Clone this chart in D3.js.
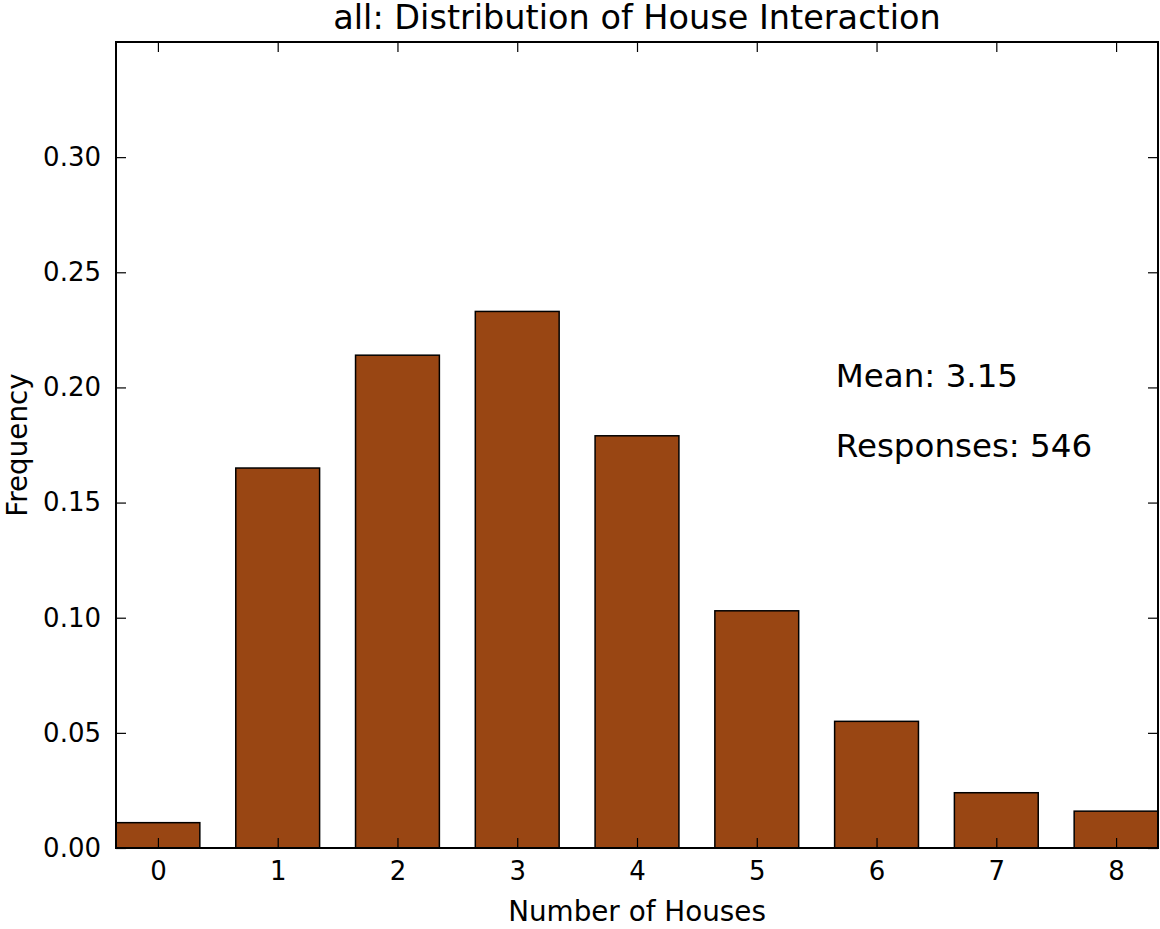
<!DOCTYPE html>
<html>
<head>
<meta charset="utf-8">
<script src="https://cdn.jsdelivr.net/npm/d3@7"></script>
<style>
  body { margin: 0; background: #fff; }
  svg { display: block; }
</style>
</head>
<body>
<div id="chart"></div>
<script>
// Data
const houses = [0, 1, 2, 3, 4, 5, 6, 7, 8];
const frequency = [0.011, 0.165, 0.214, 0.233, 0.179, 0.103, 0.055, 0.024, 0.016];
const yTicks = [0.00, 0.05, 0.10, 0.15, 0.20, 0.25, 0.30];
const notes = ['Mean: 3.15', 'Responses: 546'];
const noteY = [0.20, 0.17];
const noteX = 5.66;

const width = 1160;
const height = 929;
const margin = { top: 42, right: 2, bottom: 81, left: 116 };
const barWidth = 0.7;
const barColor = '#994613';
const font = 'DejaVu Sans';

const svg = d3.select('#chart').append('svg')
    .attr('width', width)
    .attr('height', height);

const x = d3.scaleLinear()
    .domain([-0.35, 8.35])
    .range([margin.left, width - margin.right]);

const y = d3.scaleLinear()
    .domain([0, 0.35])
    .range([height - margin.bottom, margin.top]);

const plotW = width - margin.left - margin.right;
const plotH = height - margin.top - margin.bottom;

// bars
svg.append('g')
  .selectAll('rect')
  .data(houses)
  .join('rect')
    .attr('x', (d) => x(d - barWidth / 2))
    .attr('y', (d, i) => y(frequency[i]))
    .attr('width', x(barWidth) - x(0))
    .attr('height', (d, i) => y(0) - y(frequency[i]))
    .attr('fill', barColor)
    .attr('stroke', '#000')
    .attr('stroke-width', 1.5);

// axes, ticks pointing inwards like classic matplotlib
const axisStyle = (g) => {
  g.select('.domain').remove();
  g.selectAll('.tick line').attr('stroke', '#000').attr('stroke-width', 1.2);
  g.selectAll('.tick text')
    .attr('font-family', font)
    .attr('font-size', 26)
    .attr('fill', '#000');
};

svg.append('g')
    .attr('transform', `translate(0,${y(0)})`)
    .call(d3.axisBottom(x).tickValues(houses).tickFormat(d3.format('d'))
      .tickSizeInner(-10).tickSizeOuter(0).tickPadding(14))
    .call(axisStyle);

svg.append('g')
    .attr('transform', `translate(0,${margin.top})`)
    .call(d3.axisTop(x).tickValues(houses).tickFormat('')
      .tickSizeInner(-10).tickSizeOuter(0))
    .call(axisStyle);

svg.append('g')
    .attr('transform', `translate(${margin.left},0)`)
    .call(d3.axisLeft(y).tickValues(yTicks).tickFormat(d3.format('.2f'))
      .tickSizeInner(-10).tickSizeOuter(0).tickPadding(15))
    .call(axisStyle);

svg.append('g')
    .attr('transform', `translate(${width - margin.right},0)`)
    .call(d3.axisRight(y).tickValues(yTicks).tickFormat('')
      .tickSizeInner(-10).tickSizeOuter(0))
    .call(axisStyle);

// frame
svg.append('rect')
    .attr('x', margin.left)
    .attr('y', margin.top)
    .attr('width', plotW)
    .attr('height', plotH)
    .attr('fill', 'none')
    .attr('stroke', '#000')
    .attr('stroke-width', 2);

// annotations
svg.append('g')
  .selectAll('text')
  .data(notes)
  .join('text')
    .attr('x', x(noteX))
    .attr('y', (d, i) => y(noteY[i]))
    .attr('font-family', font)
    .attr('font-size', 32.5)
    .attr('fill', '#000')
    .text((d) => d);

// title and axis labels
svg.append('text')
    .attr('x', margin.left + plotW / 2)
    .attr('y', 29)
    .attr('text-anchor', 'middle')
    .attr('font-family', font)
    .attr('font-size', 33.5)
    .text('all: Distribution of House Interaction');

svg.append('text')
    .attr('x', margin.left + plotW / 2)
    .attr('y', 921)
    .attr('text-anchor', 'middle')
    .attr('font-family', font)
    .attr('font-size', 27.8)
    .text('Number of Houses');

svg.append('text')
    .attr('transform', `translate(27,${margin.top + plotH / 2}) rotate(-90)`)
    .attr('text-anchor', 'middle')
    .attr('font-family', font)
    .attr('font-size', 27.8)
    .text('Frequency');
</script>
</body>
</html>
